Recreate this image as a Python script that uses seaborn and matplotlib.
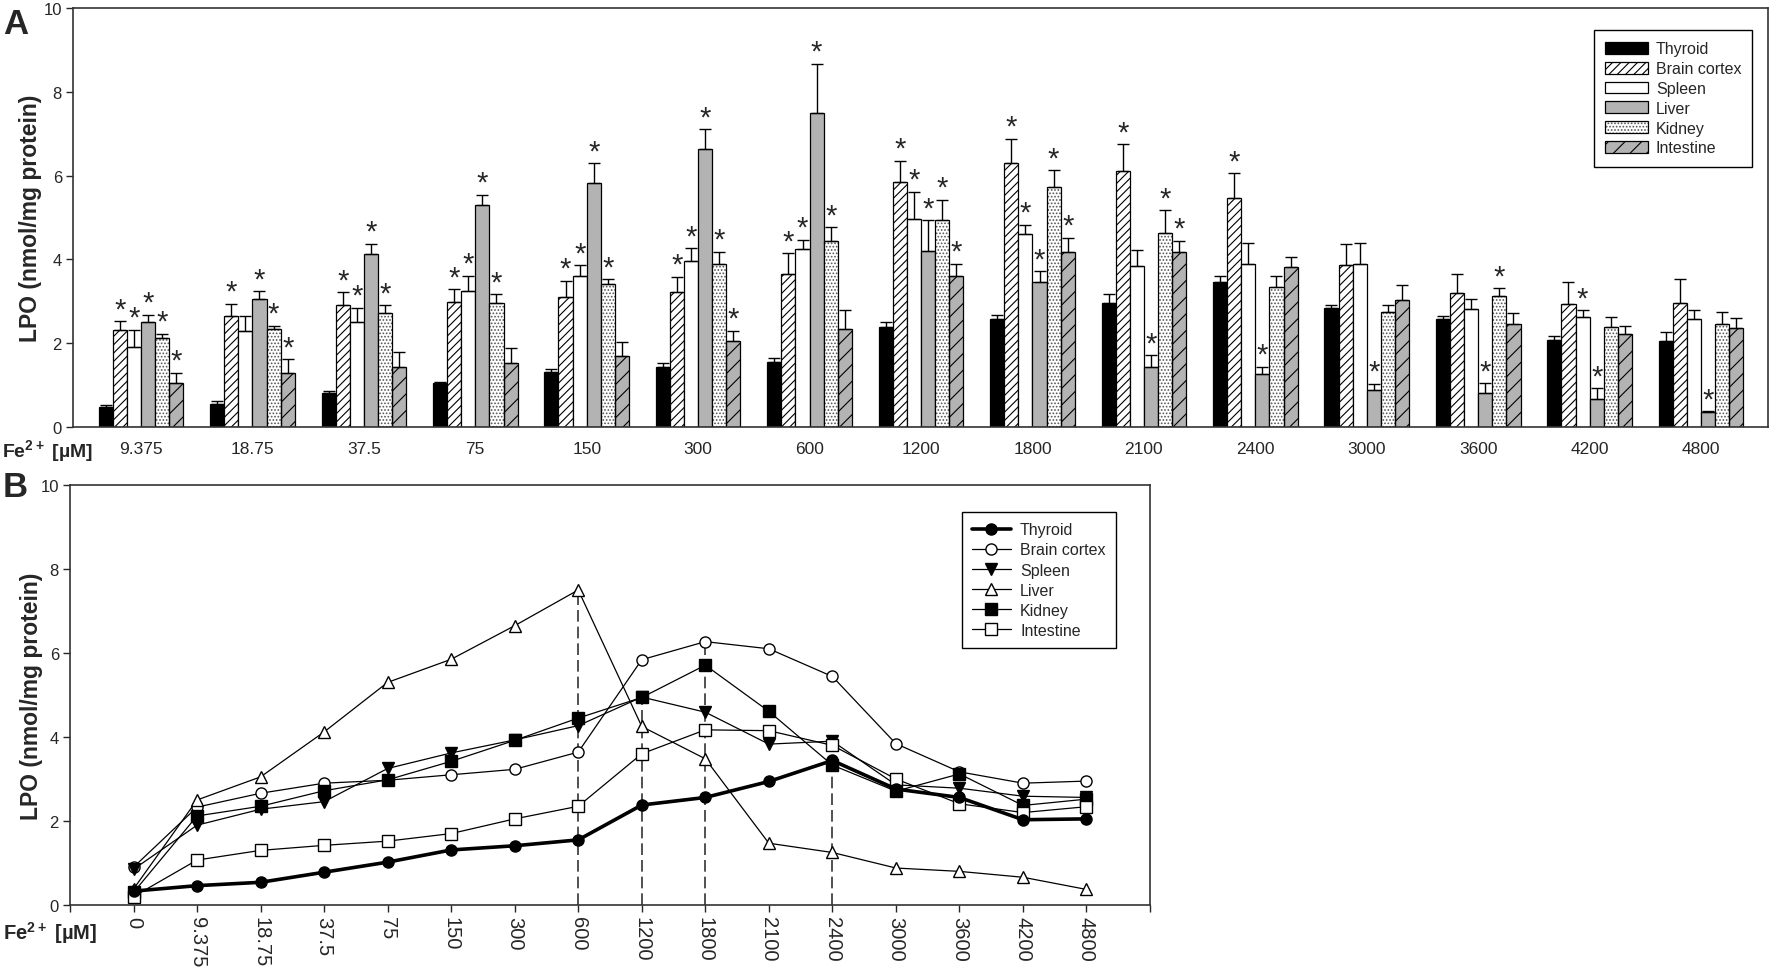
import numpy as np
import pandas as pd
import matplotlib
matplotlib.use("Agg")
import matplotlib.pyplot as plt
from matplotlib.patches import Patch, Rectangle
from matplotlib.lines import Line2D
import seaborn as sns

organs = ["Thyroid", "Brain cortex", "Spleen", "Liver", "Kidney", "Intestine"]
conc_b = ["0", "9.375", "18.75", "37.5", "75", "150", "300", "600", "1200",
          "1800", "2100", "2400", "3000", "3600", "4200", "4800"]
conc_a = conc_b[1:]

# panel A: bar means, SEM and significance (1 = asterisk)
thyroid_a = [0.48, 0.55, 0.80, 1.05, 1.31, 1.42, 1.56, 2.38, 2.57, 2.97, 3.45, 2.83, 2.58, 2.08, 2.06]
brain_a = [2.32, 2.66, 2.90, 2.98, 3.10, 3.22, 3.64, 5.85, 6.29, 6.10, 5.47, 3.87, 3.19, 2.93, 2.97]
spleen_a = [1.90, 2.28, 2.50, 3.25, 3.61, 3.95, 4.25, 4.97, 4.60, 3.84, 3.90, 3.90, 2.82, 2.62, 2.57]
liver_a = [2.50, 3.06, 4.12, 5.29, 5.83, 6.64, 7.50, 4.21, 3.46, 1.44, 1.26, 0.89, 0.81, 0.67, 0.36]
kidney_a = [2.12, 2.34, 2.73, 2.97, 3.41, 3.90, 4.44, 4.94, 5.73, 4.62, 3.34, 2.74, 3.13, 2.38, 2.45]
intestine_a = [1.06, 1.29, 1.43, 1.52, 1.70, 2.06, 2.34, 3.61, 4.18, 4.17, 3.81, 3.02, 2.45, 2.21, 2.36]

thyroid_err = [0.04, 0.08, 0.06, 0.02, 0.08, 0.10, 0.08, 0.12, 0.10, 0.20, 0.16, 0.07, 0.06, 0.10, 0.21]
brain_err = [0.20, 0.28, 0.31, 0.31, 0.39, 0.37, 0.51, 0.51, 0.59, 0.65, 0.59, 0.49, 0.46, 0.52, 0.57]
spleen_err = [0.42, 0.38, 0.35, 0.36, 0.25, 0.31, 0.22, 0.65, 0.23, 0.38, 0.48, 0.48, 0.23, 0.16, 0.23]
liver_err = [0.18, 0.18, 0.25, 0.25, 0.46, 0.47, 1.17, 0.73, 0.26, 0.27, 0.18, 0.14, 0.24, 0.26, 0.02]
kidney_err = [0.11, 0.08, 0.18, 0.20, 0.11, 0.28, 0.33, 0.48, 0.40, 0.55, 0.26, 0.17, 0.18, 0.25, 0.29]
intestine_err = [0.24, 0.33, 0.35, 0.36, 0.32, 0.24, 0.46, 0.29, 0.34, 0.27, 0.25, 0.38, 0.26, 0.20, 0.24]

thyroid_sig = [0, 0, 0, 0, 0, 0, 0, 0, 0, 0, 0, 0, 0, 0, 0]
brain_sig = [1, 1, 1, 1, 1, 1, 1, 1, 1, 1, 1, 0, 0, 0, 0]
spleen_sig = [1, 0, 1, 1, 1, 1, 1, 1, 1, 0, 0, 0, 0, 1, 0]
liver_sig = [1, 1, 1, 1, 1, 1, 1, 1, 1, 1, 1, 1, 1, 1, 1]
kidney_sig = [1, 1, 1, 1, 1, 1, 1, 1, 1, 1, 0, 0, 1, 0, 0]
intestine_sig = [1, 1, 0, 0, 0, 1, 0, 1, 1, 1, 0, 0, 0, 0, 0]

# panel B: line values (includes the 0 uM control)
thyroid_b = [0.33, 0.46, 0.54, 0.78, 1.02, 1.31, 1.41, 1.55, 2.38, 2.56, 2.94, 3.44, 2.76, 2.56, 2.03, 2.05]
brain_b = [0.90, 2.33, 2.66, 2.90, 2.97, 3.10, 3.23, 3.64, 5.84, 6.27, 6.10, 5.44, 3.84, 3.17, 2.90, 2.95]
spleen_b = [0.85, 1.90, 2.28, 2.46, 3.25, 3.62, 3.93, 4.27, 4.95, 4.59, 3.83, 3.90, 2.86, 2.78, 2.59, 2.56]
liver_b = [0.38, 2.50, 3.05, 4.12, 5.30, 5.85, 6.65, 7.50, 4.25, 3.48, 1.47, 1.25, 0.88, 0.80, 0.66, 0.37]
kidney_b = [0.30, 2.12, 2.35, 2.72, 2.98, 3.42, 3.92, 4.45, 4.94, 5.71, 4.61, 3.33, 2.71, 3.12, 2.37, 2.52]
intestine_b = [0.20, 1.07, 1.30, 1.42, 1.52, 1.70, 2.05, 2.35, 3.60, 4.17, 4.15, 3.80, 3.00, 2.41, 2.20, 2.34]

# dashed guides at the peaks
peak_conc = ["600", "1200", "1800", "2400"]
peak_lpo = [liver_b[7], spleen_b[8], brain_b[9], thyroid_b[11]]

means_a = [thyroid_a, brain_a, spleen_a, liver_a, kidney_a, intestine_a]
errs_a = [thyroid_err, brain_err, spleen_err, liver_err, kidney_err, intestine_err]
sigs_a = [thyroid_sig, brain_sig, spleen_sig, liver_sig, kidney_sig, intestine_sig]
lines_b = [thyroid_b, brain_b, spleen_b, liver_b, kidney_b, intestine_b]

gray = "#b3b3b3"
bar_face = ["black", "white", "white", gray, "white", gray]
bar_hatch = [None, "////", None, None, ".....", "//"]

sns.set_style("white")
plt.rcParams["font.family"] = ["Liberation Sans", "DejaVu Sans"]
plt.rcParams["mathtext.fontset"] = "custom"
plt.rcParams["mathtext.rm"] = "Liberation Sans"
plt.rcParams["mathtext.bf"] = "Liberation Sans:bold"
plt.rcParams["hatch.linewidth"] = 0.8

fig = plt.figure(figsize=(17.72, 9.70), dpi=100)
ax_a = fig.add_axes([0.0412, 0.5588, 0.9565, 0.4319])
ax_b = fig.add_axes([0.0395, 0.0660, 0.6095, 0.4330])

# ---------- Panel A: grouped bars ----------
bars = pd.DataFrame({
    "conc": np.tile(conc_a, len(organs)),
    "organ": np.repeat(organs, len(conc_a)),
    "lpo": np.concatenate(means_a),
})
sns.barplot(data=bars, x="conc", y="lpo", hue="organ", order=conc_a, hue_order=organs,
            palette=["white"] * 6, width=0.76, errorbar=None, legend=False,
            saturation=1, edgecolor="black", linewidth=0.9, ax=ax_a)

bar_conts = list(ax_a.containers)
for k, cont in enumerate(bar_conts):
    for j, rect in enumerate(cont.patches):
        rect.set_facecolor(bar_face[k])
        if k == 4:
            # grey dots inside a black outline
            rect.set_hatch(bar_hatch[k])
            rect.set_edgecolor("#555555")
            rect.set_linewidth(0)
            ax_a.add_patch(Rectangle((rect.get_x(), 0), rect.get_width(), rect.get_height(),
                                     fill=False, edgecolor="black", linewidth=0.9, zorder=rect.get_zorder()))
        elif bar_hatch[k]:
            rect.set_hatch(bar_hatch[k])
        xc = rect.get_x() + rect.get_width() / 2
        top = rect.get_height()
        ax_a.errorbar(xc, top, yerr=[[0], [errs_a[k][j]]], fmt="none", ecolor="black",
                      elinewidth=1.0, capsize=4, capthick=1.0, zorder=1)
        if sigs_a[k][j]:
            ax_a.text(xc, top + errs_a[k][j] - 0.05, "*", ha="center", va="bottom", fontsize=21)

ax_a.set_xlim(-0.61, 14.60)
ax_a.set_ylim(0, 10)
ax_a.set_yticks(range(0, 11, 2))
ax_a.set_xlabel("")
ax_a.set_ylabel("LPO (nmol/mg protein)", fontsize=16.5, fontweight="bold")
ax_a.yaxis.set_label_coords(-0.0183, 0.5)
ax_a.tick_params(axis="x", length=0, pad=10, labelsize=12.5)
ax_a.tick_params(axis="y", direction="out", length=5, width=1, pad=3, labelsize=12, left=True)

handles_a = []
for k in range(len(organs)):
    if k == 4:
        handles_a.append((Patch(facecolor="white", hatch=bar_hatch[k], edgecolor="#555555", linewidth=0),
                          Patch(facecolor="none", edgecolor="black", linewidth=0.9)))
    else:
        handles_a.append(Patch(facecolor=bar_face[k], hatch=bar_hatch[k], edgecolor="black", linewidth=0.9))
leg_a = ax_a.legend(handles_a, organs, loc="upper right", bbox_to_anchor=(0.9935, 0.976),
                    bbox_transform=fig.transFigure, fontsize=11.5, frameon=True, fancybox=False,
                    framealpha=1, edgecolor="black", borderpad=0.7, handlelength=2.7,
                    handleheight=0.75, handletextpad=0.5, labelspacing=0.3)
leg_a.get_frame().set_linewidth(1.0)

# ---------- Panel B: lines ----------
xpos = np.arange(len(conc_b))
marks = ["o", "o", "v", "^", "s", "s"]
faces = ["black", "white", "black", "white", "black", "white"]
widths = [2.6, 0.9, 0.9, 0.9, 0.9, 0.9]

peak_pos = [conc_b.index(c) for c in peak_conc]
ax_b.vlines(peak_pos, 0, peak_lpo, colors="#333333", linestyles=(0, (7, 3)), linewidth=1.2, zorder=1)

handles_b = []
for k, name in enumerate(organs):
    sns.lineplot(x=xpos, y=lines_b[k], ax=ax_b, color="black", linewidth=widths[k],
                 marker=marks[k], markersize=8, markerfacecolor=faces[k],
                 markeredgecolor="black", markeredgewidth=1.0, zorder=3 + (k == 0))
    handles_b.append(Line2D([], [], color="black", linewidth=widths[k], marker=marks[k],
                            markersize=8, markerfacecolor=faces[k], markeredgecolor="black"))

xlo, xhi = -1, 16
ax_b.set_xlim(xlo, xhi)
ax_b.set_ylim(0, 10)
ax_b.set_xticks([xlo] + list(xpos) + [xhi])
ax_b.set_xticklabels([""] + conc_b + [""], rotation=-90)
ax_b.set_yticks(range(0, 11, 2))
ax_b.set_ylabel("LPO (nmol/mg protein)", fontsize=16.5, fontweight="bold")
ax_b.yaxis.set_label_coords(-0.025, 0.5)
ax_b.tick_params(axis="x", direction="out", length=5, width=1, pad=3, labelsize=14.5, bottom=True)
ax_b.tick_params(axis="y", direction="out", length=5, width=1, pad=3, labelsize=12, left=True)

leg_b = ax_b.legend(handles_b, organs, loc="upper right", bbox_to_anchor=(0.6343, 0.4794),
                    bbox_transform=fig.transFigure, fontsize=11.5, frameon=True, fancybox=False,
                    framealpha=1, edgecolor="black", borderpad=0.65, handlelength=2.4,
                    handletextpad=0.6, labelspacing=0.32)
leg_b.get_frame().set_linewidth(1.0)

for ax in (ax_a, ax_b):
    for sp in ax.spines.values():
        sp.set_visible(True)
        sp.set_color("#333333")
        sp.set_linewidth(1.2)

# panel letters and concentration captions
fig.text(0.0017, 0.965, "A", fontsize=25, fontweight="bold", va="baseline")
fig.text(0.0012, 0.4876, "B", fontsize=25, fontweight="bold", va="baseline")
fig.text(0.0012, 0.5278, r"Fe$^{\mathbf{2+}}$ [µM]", fontsize=14, fontweight="bold", va="baseline")
fig.text(0.0017, 0.0309, r"Fe$^{\mathbf{2+}}$ [µM]", fontsize=14.5, fontweight="bold", va="baseline")

fig.savefig("out.png", dpi=100)
